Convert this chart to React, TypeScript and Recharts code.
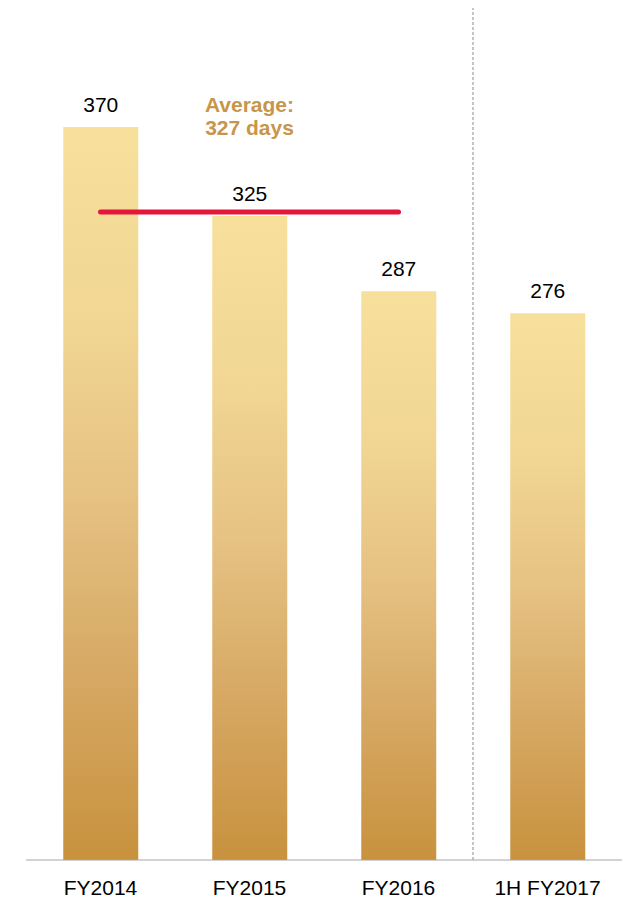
import { BarChart, Bar, XAxis, YAxis, ReferenceLine, LabelList } from 'recharts';

const periods = ['FY2014', 'FY2015', 'FY2016', '1H FY2017'];
const days = [370, 325, 287, 276];
const averageDays = 327;
const averageFrom = 'FY2014';
const averageTo = 'FY2016';
const splitBefore = '1H FY2017';

const FONT = 'Liberation Sans, Arial, sans-serif';

const chartData = periods.map((period, i) => ({ period, days: days[i] }));

const AverageLabel = ({ viewBox }: any) => {
  if (!viewBox) return null;
  const cx = viewBox.x + viewBox.width / 2;
  const y = viewBox.y;
  return (
    <text
      x={cx}
      y={y - 100}
      textAnchor="middle"
      fill="#c8964a"
      fontFamily={FONT}
      fontSize={21}
      fontWeight="bold"
    >
      <tspan x={cx} dy={0}>Average:</tspan>
      <tspan x={cx} dy={22.5}>{`${averageDays} days`}</tspan>
    </text>
  );
};

const App = () => {
  return (
    <div style={{ position: 'absolute', left: 0, top: 0, background: '#fff' }}>
      <BarChart
        width={626}
        height={898}
        data={chartData}
        margin={{ top: 8, right: 4, bottom: 8, left: 26 }}
        barCategoryGap="25%"
      >
        <defs>
          <linearGradient id="goldBar" x1="0" y1="0" x2="0" y2="1">
            <stop offset="0%" stopColor="#f7df9c" />
            <stop offset="25%" stopColor="#f2d794" />
            <stop offset="50%" stopColor="#e6c283" />
            <stop offset="75%" stopColor="#d6a863" />
            <stop offset="100%" stopColor="#c8923e" />
          </linearGradient>
        </defs>
        <XAxis
          dataKey="period"
          axisLine={{ stroke: '#a6a6a6', strokeWidth: 1 }}
          tickLine={false}
          tickMargin={14}
          height={30}
          interval={0}
          tick={{ fill: '#000', fontSize: 21, fontFamily: FONT }}
        />
        <YAxis hide domain={[0, 430]} />
        <ReferenceLine
          x={splitBefore}
          position="start"
          stroke="#8c8c8c"
          strokeDasharray="3 2"
          strokeWidth={1}
        />
        <Bar dataKey="days" fill="url(#goldBar)" isAnimationActive={false}>
          <LabelList
            dataKey="days"
            position="top"
            offset={15}
            fill="#000"
            fontSize={21}
            fontFamily={FONT}
          />
        </Bar>
        <ReferenceLine
          segment={[
            { x: averageFrom, y: averageDays },
            { x: averageTo, y: averageDays },
          ]}
          stroke="#e4163a"
          strokeWidth={5}
          strokeLinecap="round"
          label={<AverageLabel />}
        />
      </BarChart>
    </div>
  );
};

export default App;
